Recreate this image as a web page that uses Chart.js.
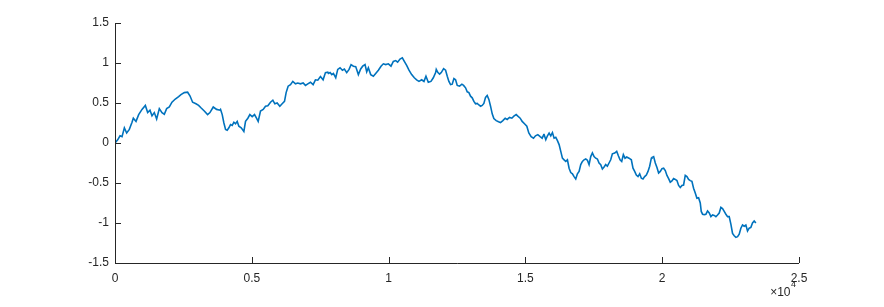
<!DOCTYPE html>
<html>
<head>
<meta charset="utf-8">
<script src="https://cdn.jsdelivr.net/npm/chart.js@4/dist/chart.umd.min.js"></script>
<style>
  html, body { margin: 0; padding: 0; background: #fff; }
  #wrap { width: 884px; height: 307px; }
</style>
</head>
<body>
<div id="wrap"><canvas id="walk" width="884" height="307"></canvas></div>
<script>
// Random-walk trace, [sample, value] pairs, left to right.
const walkRise = [
  [0, 0], [98, 0.04], [184, 0.09], [257, 0.08], [342, 0.19], [427, 0.125], [524, 0.17], [622, 0.26],
  [670, 0.31], [768, 0.27], [865, 0.355], [987, 0.42], [1109, 0.47], [1194, 0.38], [1279, 0.41],
  [1352, 0.34], [1437, 0.38], [1522, 0.30], [1620, 0.43], [1717, 0.38], [1802, 0.36], [1888, 0.43],
  [1985, 0.45], [2082, 0.51], [2204, 0.55], [2326, 0.58], [2411, 0.605], [2533, 0.63], [2654, 0.635],
  [2739, 0.59], [2837, 0.51], [2959, 0.49], [3056, 0.47], [3141, 0.44], [3263, 0.40], [3384, 0.355],
  [3470, 0.38], [3591, 0.45], [3713, 0.42], [3835, 0.41]
];
const walkClimb = [
  [3858, 0.42], [3919, 0.355], [3980, 0.25], [4041, 0.17], [4101, 0.16], [4162, 0.19], [4223, 0.23],
  [4284, 0.22], [4345, 0.26], [4406, 0.24], [4467, 0.27], [4527, 0.21], [4613, 0.19], [4710, 0.145],
  [4771, 0.27], [4856, 0.31], [4929, 0.355], [5014, 0.33], [5099, 0.355], [5172, 0.31], [5233, 0.27],
  [5318, 0.40], [5416, 0.42], [5501, 0.46], [5586, 0.465], [5684, 0.51], [5769, 0.535], [5842, 0.49],
  [5927, 0.50], [6024, 0.46], [6109, 0.49], [6195, 0.52], [6255, 0.63], [6328, 0.71], [6414, 0.73],
  [6499, 0.77], [6596, 0.74], [6681, 0.75], [6779, 0.74], [6876, 0.75], [6961, 0.72], [7047, 0.74],
  [7144, 0.76], [7241, 0.73], [7326, 0.79], [7412, 0.785], [7509, 0.83], [7606, 0.79], [7692, 0.88],
  [7777, 0.885]
];
const walkPeak = [
  [7800, 0.87], [7861, 0.88], [7922, 0.855], [7983, 0.87], [8068, 0.815], [8141, 0.92], [8226, 0.94],
  [8311, 0.91], [8384, 0.925], [8469, 0.88], [8555, 0.92], [8628, 0.98], [8713, 0.96], [8798, 0.955],
  [8895, 0.855], [8980, 0.925], [9053, 0.96], [9139, 0.98], [9200, 0.89], [9260, 0.94], [9346, 0.855],
  [9443, 0.835], [9528, 0.87], [9626, 0.91], [9723, 0.96], [9808, 0.99], [9893, 0.98], [9991, 0.99],
  [10088, 0.96], [10173, 1.02], [10258, 1.03], [10331, 1.01], [10417, 1.05], [10502, 1.065],
  [10575, 1.02], [10660, 0.97], [10745, 0.91], [10843, 0.855], [10940, 0.815], [11025, 0.79],
  [11110, 0.77], [11208, 0.79], [11293, 0.77], [11366, 0.835], [11451, 0.76], [11548, 0.77],
  [11634, 0.815], [11719, 0.88]
];
const walkSlide = [
  [11742, 0.92], [11803, 0.88], [11864, 0.86], [11925, 0.88], [12010, 0.93], [12083, 0.91],
  [12144, 0.835], [12204, 0.77], [12265, 0.73], [12326, 0.735], [12387, 0.805], [12448, 0.79],
  [12509, 0.72], [12594, 0.71], [12679, 0.735], [12740, 0.72], [12813, 0.69], [12874, 0.64],
  [12935, 0.63], [12995, 0.585], [13056, 0.565], [13117, 0.52], [13178, 0.49], [13239, 0.495],
  [13300, 0.475], [13361, 0.46], [13421, 0.47], [13482, 0.495], [13543, 0.57], [13604, 0.595],
  [13665, 0.545], [13726, 0.46], [13787, 0.365], [13847, 0.305], [13933, 0.28], [14018, 0.265],
  [14091, 0.255], [14176, 0.28], [14261, 0.31], [14334, 0.295], [14419, 0.32], [14505, 0.31],
  [14578, 0.335], [14663, 0.355], [14724, 0.335], [14809, 0.31], [14882, 0.27], [14967, 0.24],
  [15052, 0.21], [15125, 0.125], [15210, 0.08], [15296, 0.06], [15369, 0.09], [15454, 0.105],
  [15539, 0.08], [15612, 0.06], [15673, 0.105]
];
const walkDip = [
  [15684, 0.105], [15745, 0.04], [15806, 0.09], [15867, 0.125], [15927, 0.09], [15988, 0.13],
  [16049, 0.06], [16110, 0.07], [16171, 0.03], [16232, -0.02], [16293, -0.105], [16353, -0.19],
  [16414, -0.21], [16475, -0.23], [16536, -0.21], [16597, -0.315], [16658, -0.37], [16719, -0.385],
  [16779, -0.42], [16840, -0.45], [16901, -0.385], [16962, -0.355], [17023, -0.27], [17084, -0.23],
  [17144, -0.21], [17205, -0.20], [17266, -0.215], [17327, -0.27], [17388, -0.17], [17449, -0.125],
  [17510, -0.17], [17570, -0.19], [17631, -0.20], [17692, -0.25], [17753, -0.27], [17814, -0.325],
  [17875, -0.30], [17936, -0.27], [17996, -0.29], [18057, -0.25], [18118, -0.21], [18179, -0.135],
  [18264, -0.125], [18337, -0.105], [18398, -0.16], [18459, -0.21], [18520, -0.23], [18580, -0.145],
  [18641, -0.19], [18702, -0.175], [18787, -0.19], [18872, -0.21], [18933, -0.315], [18994, -0.355],
  [19055, -0.40], [19116, -0.42], [19177, -0.385], [19238, -0.44], [19298, -0.45], [19359, -0.42],
  [19420, -0.40], [19481, -0.355], [19542, -0.29], [19603, -0.19]
];
const walkFall = [
  [19626, -0.18], [19687, -0.17], [19748, -0.25], [19809, -0.305], [19869, -0.375], [19930, -0.355],
  [19991, -0.32], [20052, -0.315], [20113, -0.345], [20174, -0.405], [20235, -0.445], [20295, -0.49],
  [20356, -0.475], [20417, -0.445], [20478, -0.455], [20539, -0.47], [20600, -0.53], [20661, -0.555],
  [20721, -0.53], [20782, -0.525], [20843, -0.405], [20904, -0.42], [20965, -0.455], [21026, -0.47],
  [21086, -0.48], [21147, -0.565], [21208, -0.625], [21269, -0.69], [21330, -0.685], [21391, -0.75],
  [21427, -0.855], [21476, -0.89], [21537, -0.895], [21598, -0.89], [21658, -0.85], [21719, -0.875],
  [21780, -0.92], [21841, -0.9], [21902, -0.905], [21963, -0.92], [22023, -0.9], [22084, -0.875],
  [22145, -0.805], [22206, -0.82], [22267, -0.855], [22328, -0.89], [22389, -0.92], [22449, -0.92],
  [22510, -1.015], [22571, -1.13], [22632, -1.16], [22693, -1.18], [22754, -1.17], [22815, -1.14],
  [22875, -1.065], [22936, -1.025], [22997, -1.04], [23058, -1.025], [23119, -1.10], [23180, -1.065],
  [23241, -1.055], [23301, -1.0], [23362, -0.975], [23423, -1.0]
];

const xTickLabels = ['0', '0.5', '1', '1.5', '2', '2.5'];
const yTickLabels = ['-1.5', '-1', '-0.5', '0', '0.5', '1', '1.5'];
const xExponent = '4';

const AXIS_COLOR = '#262626';
const LINE_COLOR = '#0072bd';
const FONT = '"Liberation Sans", Arial, Helvetica, sans-serif';

const walk = [walkRise, walkClimb, walkPeak, walkSlide, walkDip, walkFall]
  .flat()
  .map(([x, y]) => ({ x, y }));

// MATLAB-style axes: left/bottom lines only, inward ticks, "x10^4" multiplier.
const matlabAxes = {
  id: 'matlab-axes',
  afterDraw(chart) {
    const { ctx } = chart;
    const { left, right, top, bottom } = chart.chartArea;
    const { x, y } = chart.scales;
    ctx.save();
    ctx.strokeStyle = AXIS_COLOR;
    ctx.lineWidth = 1;
    ctx.beginPath();
    ctx.moveTo(left + 0.5, top);
    ctx.lineTo(left + 0.5, bottom + 0.5);
    ctx.lineTo(right, bottom + 0.5);
    x.ticks.forEach((tick) => {
      const px = Math.round(x.getPixelForValue(tick.value)) + 0.5;
      ctx.moveTo(px, bottom);
      ctx.lineTo(px, bottom - 6);
    });
    y.ticks.forEach((tick) => {
      const py = Math.round(y.getPixelForValue(tick.value)) + 0.5;
      ctx.moveTo(left, py);
      ctx.lineTo(left + 6, py);
    });
    ctx.stroke();

    ctx.fillStyle = AXIS_COLOR;
    ctx.textBaseline = 'alphabetic';
    ctx.font = '9px ' + FONT;
    const supW = ctx.measureText(xExponent).width;
    const supX = right - 3 - supW;
    ctx.fillText(xExponent, supX, bottom + 24);
    ctx.font = '12px ' + FONT;
    ctx.textAlign = 'right';
    ctx.fillText('\u00d710', supX - 0.5, bottom + 33);
    ctx.restore();
  }
};

new Chart(document.getElementById('walk'), {
  type: 'line',
  data: {
    datasets: [{
      data: walk,
      borderColor: LINE_COLOR,
      borderWidth: 1.6,
      pointRadius: 0,
      tension: 0,
      fill: false
    }]
  },
  options: {
    responsive: false,
    animation: false,
    parsing: false,
    layout: { padding: { left: 0, right: 85, top: 23, bottom: 0 } },
    plugins: { legend: { display: false }, tooltip: { enabled: false } },
    scales: {
      x: {
        type: 'linear',
        min: 0,
        max: 25000,
        grid: { display: false, drawTicks: false, tickLength: 0 },
        border: { display: false },
        afterFit: (scale) => { scale.height = 44; },
        ticks: {
          stepSize: 5000,
          maxRotation: 0,
          padding: 8,
          color: AXIS_COLOR,
          font: { family: FONT, size: 12 },
          callback: (value) => xTickLabels[Math.round(value / 5000)]
        }
      },
      y: {
        type: 'linear',
        min: -1.5,
        max: 1.5,
        grid: { display: false, drawTicks: false, tickLength: 0 },
        border: { display: false },
        afterFit: (scale) => { scale.width = 115; },
        ticks: {
          stepSize: 0.5,
          padding: 6,
          color: AXIS_COLOR,
          font: { family: FONT, size: 12 },
          callback: (value) => yTickLabels[Math.round((value + 1.5) / 0.5)]
        }
      }
    }
  },
  plugins: [matlabAxes]
});
</script>
</body>
</html>
